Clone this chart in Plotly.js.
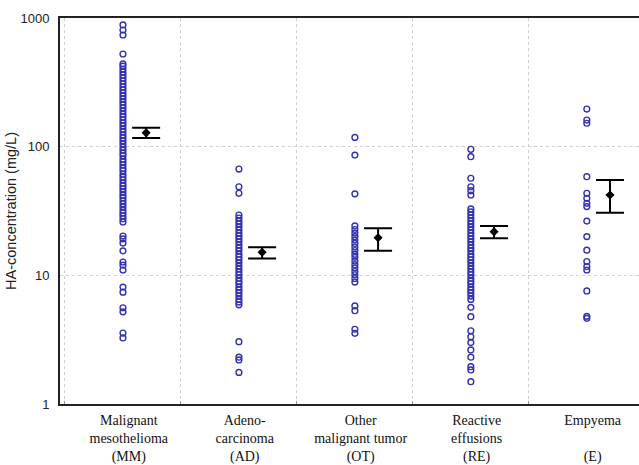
<!DOCTYPE html>
<html>
<head>
<meta charset="utf-8">
<script src="https://cdn.plot.ly/plotly-3.0.1.min.js"></script>
<style>html,body{margin:0;padding:0;background:#fff;}#chart{width:639px;height:465px;}</style>
</head>
<body>
<div id="chart"></div>
<script>
// ---- data ----
var groupLabels = [
  "Malignant<br>mesothelioma<br>(MM)",
  "Adeno-<br>carcinoma<br>(AD)",
  "Other<br>malignant tumor<br>(OT)",
  "Reactive<br>effusions<br>(RE)",
  "Empyema<br> <br>(E)"
];

var valuesMM = [883, 807, 738, 525,
  440, 423, 401, 380, 361, 342, 324, 307, 291, 276, 261, 248, 235, 222, 211, 200,
  189, 179, 170, 161, 153, 145, 137, 130, 123, 117, 111, 105, 99, 94, 89, 85, 80,
  76, 72, 68, 65, 61, 58, 55, 52, 49.5, 47, 44.5, 42, 40, 38, 36, 34, 32, 30.5, 29,
  27.5, 26,
  20.2, 19.2, 17.8, 15.5, 12.7, 12.0, 11.0, 8.1, 7.4, 5.6, 5.2, 3.56, 3.26];

var valuesAD = [67, 48.8, 43.4,
  29.4, 27.9, 26.4, 25.1, 23.7, 22.5, 21.3, 20.2, 19.2, 18.2, 17.2, 16.3, 15.5,
  14.6, 13.9, 13.2, 12.5, 11.8, 11.2, 10.6, 10.1, 9.5, 9.0, 8.6, 8.1, 7.7, 7.3,
  6.9, 6.5, 6.2, 5.9,
  3.05, 2.31, 2.2, 1.76];

var valuesOT = [118, 86, 43,
  24.2, 22.7, 21.3, 20.0, 18.8, 17.7, 16.6, 15.6, 14.6, 13.8, 12.9, 12.1, 11.4,
  10.7, 10.1, 9.45, 8.87,
  5.78, 5.31, 3.81, 3.54];

var valuesRE = [95.4, 83.6, 56.8, 48.8, 45.5, 42.1,
  32.8, 31.1, 29.4, 27.9, 26.4, 25.1, 23.7, 22.5, 21.3, 20.2, 19.2, 18.2, 17.2,
  16.3, 15.5, 14.6, 13.9, 13.2, 12.5, 11.8, 11.2, 10.6, 10.1, 9.5, 9.0, 8.6, 8.1,
  7.7, 7.3, 6.9, 6.5,
  5.64, 4.77, 3.71, 3.33, 3.0, 2.63, 2.31, 1.95, 1.84, 1.49];

var valuesE = [196, 161, 152, 58.4, 43.4, 39.7, 36.3, 34.2, 26.4, 20.0, 15.7,
  12.8, 11.7, 11.0, 7.56, 4.8, 4.63];

var meanVals  = [128, 15.1, 19.6, 21.8, 42.1];
var upperVals = [140, 16.5, 23.2, 24.2, 55.1];
var lowerVals = [117, 13.5, 15.5, 19.4, 30.6];

// ---- build traces ----
var allGroups = [valuesMM, valuesAD, valuesOT, valuesRE, valuesE];
var traces = [];
allGroups.forEach(function (vals, i) {
  traces.push({
    type: 'scatter', mode: 'markers',
    x: vals.map(function () { return i; }),
    y: vals,
    marker: { symbol: 'circle-open', size: 5.8, color: '#3232b0', line: { width: 1.4 } },
    hoverinfo: 'skip', showlegend: false
  });
});

var meanX = meanVals.map(function (v, i) { return i + 0.2; });
traces.push({
  type: 'scatter', mode: 'markers',
  x: meanX, y: meanVals,
  marker: { symbol: 'diamond', size: 7, color: '#000' },
  error_y: {
    type: 'data', symmetric: false,
    array: upperVals.map(function (u, i) { return u - meanVals[i]; }),
    arrayminus: lowerVals.map(function (l, i) { return meanVals[i] - l; }),
    color: '#000', thickness: 2, width: 14
  },
  hoverinfo: 'skip', showlegend: false
});

var layout = {
  width: 639, height: 465,
  margin: { l: 60, r: 0, t: 18, b: 61, pad: 0 },
  paper_bgcolor: '#fff', plot_bgcolor: '#fff',
  showlegend: false,
  xaxis: {
    range: [-0.543, 4.45],
    tickmode: 'array',
    tickvals: groupLabels.map(function (t, i) { return i + 0.05; }),
    ticktext: groupLabels,
    ticks: '', showgrid: false, zeroline: false,
    showline: true, linewidth: 2, linecolor: '#222', mirror: true,
    tickfont: { family: 'Liberation Serif, Times New Roman, serif', size: 14, color: '#111' },
    ticklabelstandoff: 2,
    minor: { tickmode: 'linear', tick0: 0.5, dtick: 1, showgrid: true, griddash: 'dot',
             gridcolor: '#cfcfcf', gridwidth: 1, ticks: 'inside', ticklen: 3, tickcolor: '#999' }
  },
  yaxis: {
    type: 'log', range: [0, 3],
    tickmode: 'array',
    tickvals: [1, 10, 100, 1000],
    ticktext: ['1', '10', '100', '1000'],
    ticks: '', showgrid: true, griddash: 'dot', gridcolor: '#cfcfcf', gridwidth: 1,
    zeroline: false,
    showline: true, linewidth: 2, linecolor: '#222',
    tickfont: { family: 'Liberation Sans, Arial, sans-serif', size: 13, color: '#222' },
    ticklabelstandoff: 6,
    title: { text: 'HA-concentration (mg/L)', standoff: 0,
             font: { family: 'Liberation Sans, Arial, sans-serif', size: 14.5, color: '#222' } }
  }
};

Plotly.newPlot('chart', traces, layout, { displayModeBar: false, staticPlot: true });
</script>
</body>
</html>
